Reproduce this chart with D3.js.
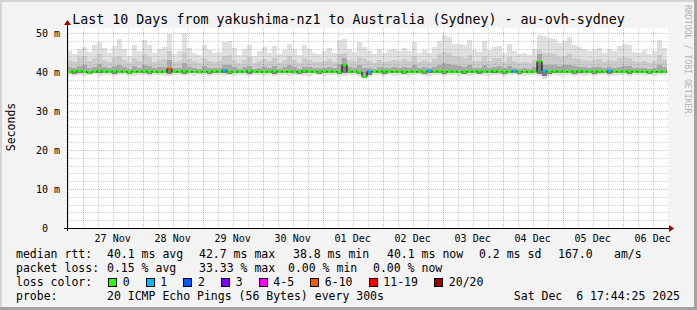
<!DOCTYPE html>
<meta charset="utf-8">
<style>
body { margin: 0; background: #f3f3f3; }
text { font-family: 'DejaVu Sans Mono', monospace; fill: #000; }
</style>
<body>
<script src="https://d3js.org/d3.v7.min.js"></script>
<script>
var width = 697,
    height = 310;

// plot frame (rrdtool canvas)
var plot = {left: 67, right: 667, top: 28, bottom: 228};

var endTime = new Date(Date.UTC(2025, 11, 6, 17, 44, 25));
var startTime = new Date(endTime.getTime() - 10 * 864e5);
var stepHours = 2;

// smoke, per 2h column (ms)
var smokeTop = [
  45.4, 44.6, 46.0, 46.3, 45.1, 47.0, 47.8, 46.2, 44.9, 46.6,
  48.4, 45.8, 44.2, 46.9, 45.5, 48.2, 47.0, 44.8, 45.9, 46.5,
  49.8, 44.6, 45.3, 49.9, 46.1, 45.0, 44.3, 46.8, 45.6, 44.9,
  45.1, 47.6, 48.0, 46.2, 44.4, 45.8, 46.9, 44.2, 45.4, 46.3,
  45.0, 46.6, 44.5, 45.7, 47.2, 45.9, 44.3, 46.8, 46.0, 44.9,
  44.7, 45.3, 46.1, 45.0, 48.1, 48.4, 46.0, 45.2, 47.6, 46.3,
  45.4, 44.6, 45.9, 44.8, 45.6, 46.0, 45.3, 46.2, 45.5, 47.7,
  45.0, 45.6, 44.9, 46.3, 48.0, 49.4, 49.0, 47.3, 47.1, 46.9,
  48.1, 45.7, 45.2, 48.0, 45.6, 46.5, 46.7, 45.0, 47.2, 45.4,
  44.6, 44.9, 44.4, 46.0, 49.4, 49.2, 48.8, 48.4, 47.4, 48.0,
  49.0, 47.0, 46.5, 46.0, 45.3, 45.8, 46.2, 44.8, 45.9, 45.5,
  46.6, 47.3, 47.0, 45.2, 44.9, 45.6, 44.6, 45.3, 48.3, 46.2
];
var smokeMid = [
  43.0, 42.6, 43.8, 44.0, 42.8, 43.5, 44.6, 43.2, 42.5, 43.9,
  44.2, 43.0, 42.4, 43.6, 42.9, 44.5, 43.8, 42.6, 43.1, 43.4,
  45.5, 42.5, 42.9, 44.8, 43.3, 42.7, 42.3, 43.7, 42.9, 42.6,
  42.8, 44.0, 44.3, 43.2, 42.4, 43.0, 43.9, 42.3, 42.8, 43.3,
  42.7, 43.6, 42.4, 43.0, 44.0, 43.1, 42.2, 43.5, 43.2, 42.6,
  42.5, 42.9, 43.4, 42.6, 44.5, 45.0, 43.2, 42.8, 43.9, 43.4,
  42.9, 42.4, 43.0, 42.5, 42.9, 43.2, 42.8, 43.3, 42.9, 44.0,
  42.6, 43.0, 42.5, 43.4, 44.6, 45.2, 45.0, 44.1, 43.8, 43.6,
  44.3, 42.9, 42.7, 44.2, 42.9, 43.5, 43.7, 42.6, 43.9, 42.8,
  42.4, 42.6, 42.3, 43.2, 45.6, 44.8, 44.9, 44.5, 43.9, 44.2,
  44.6, 43.6, 43.3, 43.0, 42.7, 43.0, 43.3, 42.5, 43.1, 42.9,
  43.5, 43.9, 43.7, 42.7, 42.5, 42.9, 42.4, 42.8, 44.3, 43.2
];
var smokeCore = [
  41.2, 40.9, 41.6, 41.7, 41.0, 41.4, 42.0, 41.3, 40.9, 41.6,
  41.8, 41.2, 40.8, 41.5, 41.1, 41.9, 41.6, 40.9, 41.3, 41.4,
  43.0, 40.9, 41.1, 42.2, 41.3, 41.0, 40.8, 41.5, 41.1, 40.9,
  41.0, 41.7, 41.9, 41.3, 40.8, 41.2, 41.6, 40.8, 41.0, 41.3,
  41.0, 41.5, 40.8, 41.2, 41.7, 41.3, 40.7, 41.4, 41.3, 40.9,
  40.9, 41.1, 41.4, 41.0, 42.0, 43.6, 41.3, 41.0, 41.7, 41.0,
  41.1, 40.8, 41.2, 40.9, 41.1, 41.3, 41.0, 41.3, 41.1, 41.7,
  40.9, 41.2, 40.9, 41.4, 41.9, 42.2, 42.0, 41.7, 41.5, 41.4,
  41.8, 41.1, 41.0, 41.8, 41.1, 41.4, 41.5, 40.9, 41.6, 41.0,
  40.8, 40.9, 40.8, 41.3, 44.6, 41.9, 41.9, 41.8, 41.6, 41.7,
  41.9, 41.5, 41.3, 41.2, 41.0, 41.2, 41.3, 40.9, 41.2, 41.1,
  41.4, 41.6, 41.5, 41.0, 40.9, 41.1, 40.8, 41.0, 41.7, 41.3
];
var smokeLow = [
  39.7, 39.6, 39.8, 39.7, 39.6, 39.8, 39.7, 39.7, 39.8, 39.6,
  39.7, 39.8, 39.6, 39.7, 39.8, 39.7, 39.6, 39.8, 39.7, 39.7,
  39.6, 39.8, 39.7, 39.6, 39.8, 39.7, 39.7, 39.8, 39.6, 39.7,
  39.8, 39.7, 39.6, 39.7, 39.8, 39.7, 39.6, 39.8, 39.7, 39.7,
  39.7, 39.6, 39.8, 39.7, 39.7, 39.8, 39.6, 39.7, 39.8, 39.7,
  39.6, 39.7, 39.8, 39.7, 39.6, 39.7, 39.8, 39.7, 39.5, 38.6,
  39.3, 39.7, 39.8, 39.6, 39.7, 39.7, 39.8, 39.6, 39.7, 39.8,
  39.7, 39.6, 39.7, 39.8, 39.7, 39.6, 39.7, 39.8, 39.7, 39.6,
  39.7, 39.8, 39.6, 39.7, 39.7, 39.8, 39.7, 39.6, 39.8, 39.7,
  39.6, 39.7, 39.8, 39.7, 39.6, 39.0, 39.6, 39.7, 39.8, 39.7,
  39.7, 39.6, 39.8, 39.7, 39.7, 39.6, 39.8, 39.7, 39.6, 39.7,
  39.8, 39.7, 39.6, 39.7, 39.8, 39.7, 39.6, 39.7, 39.8, 39.7
];
var smokeMin = [
  39.2, 39.0, 39.3, 39.1, 39.2, 39.4, 39.0, 39.2, 39.3, 39.1,
  39.2, 39.3, 39.1, 39.0, 39.3, 39.2, 39.1, 39.3, 39.2, 39.0,
  39.1, 39.3, 39.2, 39.1, 39.3, 39.0, 39.2, 39.3, 39.1, 39.2,
  39.3, 39.1, 39.2, 39.0, 39.3, 39.2, 39.1, 39.3, 39.2, 39.1,
  39.2, 39.0, 39.3, 39.2, 39.1, 39.3, 39.2, 39.0, 39.1, 39.3,
  39.2, 39.1, 39.3, 39.2, 39.0, 39.1, 39.3, 39.2, 38.9, 38.3,
  38.8, 39.2, 39.3, 39.1, 39.2, 39.0, 39.3, 39.2, 39.1, 39.3,
  39.2, 39.1, 39.0, 39.3, 39.2, 39.1, 39.2, 39.3, 39.0, 39.2,
  39.1, 39.3, 39.2, 39.0, 39.1, 39.3, 39.2, 39.1, 39.3, 39.2,
  39.1, 39.0, 39.2, 39.3, 39.0, 38.3, 39.0, 39.2, 39.1, 39.3,
  39.2, 39.1, 39.3, 39.0, 39.2, 39.1, 39.3, 39.2, 39.0, 39.1,
  39.3, 39.2, 39.1, 39.2, 39.3, 39.0, 39.2, 39.1, 39.3, 39.2
];
var median = [
  40.0, 40.2, 40.3, 40.1, 39.9, 40.1, 40.3, 40.1, 40.1, 40.2,
  40.1, 40.1, 40.0, 40.1, 40.1, 40.2, 40.1, 40.1, 40.0, 40.1,
  40.8, 40.1, 40.1, 40.2, 40.1, 40.1, 40.0, 40.1, 40.1, 40.2,
  40.1, 40.4, 40.1, 40.0, 40.1, 40.1, 40.3, 40.1, 40.1, 40.0,
  40.1, 40.2, 40.1, 40.1, 40.1, 40.0, 40.1, 40.3, 40.1, 40.1,
  40.1, 40.2, 40.1, 40.1, 40.0, 41.8, 40.1, 40.1, 40.0, 38.8,
  40.1, 40.1, 40.1, 40.2, 40.1, 40.1, 40.1, 40.0, 40.1, 40.1,
  40.1, 40.1, 40.3, 40.1, 40.2, 40.1, 40.1, 40.1, 40.0, 40.1,
  40.1, 40.1, 40.2, 40.1, 40.1, 40.3, 40.1, 40.1, 40.1, 40.2,
  40.1, 40.1, 40.0, 40.1, 42.7, 40.3, 40.1, 40.2, 40.1, 40.1,
  40.1, 40.1, 40.3, 40.1, 40.1, 40.1, 40.2, 40.1, 40.3, 40.1,
  40.1, 40.1, 40.2, 40.1, 40.1, 40.1, 40.0, 40.1, 40.1, 40.1
];
// [column, lost pings out of 20]
var lossAt = [[20, 7], [31, 1], [60, 1], [72, 1], [89, 1], [95, 1], [108, 1]];

var lossLabels = ["0", "1", "2", "3", "4-5", "6-10", "11-19", "20/20"];
var lossUpper = [0, 1, 2, 3, 5, 10, 19, 20];
var lossColors = ["#26ff00", "#00b8ff", "#0059ff", "#7e00ff", "#ff00ff", "#ff5500", "#ff0000", "#a10000"];

var dayLabels = ["27 Nov", "28 Nov", "29 Nov", "30 Nov", "01 Dec", "02 Dec", "03 Dec", "04 Dec", "05 Dec", "06 Dec"];
var yTicks = [0, 10, 20, 30, 40, 50];
var yTickLabels = ["0  ", "10 m", "20 m", "30 m", "40 m", "50 m"];

var title = "Last 10 Days from yakushima-nz1 to Australia (Sydney) - au-ovh-sydney";
var rttStats = ["40.1 ms avg", "42.7 ms max", "38.8 ms min", "40.1 ms now", "0.2 ms sd", "167.0", "am/s"];
var lossStats = ["0.15 % avg", "33.33 % max", "0.00 % min", "0.00 % now"];
var probeText = "20 ICMP Echo Pings (56 Bytes) every 300s";
var stamp = "Sat Dec  6 17:44:25 2025";

var svg = d3.select("body").append("svg")
    .attr("width", width)
    .attr("height", height);

// background + 3d frame
svg.append("rect").attr("width", width).attr("height", height).attr("fill", "#f3f3f3");
svg.append("path").attr("d", "M0,1H696M1,0V310").attr("stroke", "#d4d4d4").attr("stroke-width", 2);
svg.append("path").attr("d", "M0,308.5H697M695.5,0V310").attr("stroke", "#a3a3a3").attr("stroke-width", 3);

var x = d3.scaleUtc().domain([startTime, endTime]).range([plot.left, plot.right]);
var y = d3.scaleLinear().domain([0, (plot.bottom - plot.top) / 3.9]).range([plot.bottom, plot.top]);

svg.append("rect")
    .attr("x", plot.left).attr("y", plot.top)
    .attr("width", plot.right - plot.left + 1).attr("height", plot.bottom - plot.top)
    .attr("fill", "#fff");

var cols = median.map(function(m, i) {
  var t0 = new Date(startTime.getTime() + i * stepHours * 36e5);
  var t1 = new Date(startTime.getTime() + (i + 1) * stepHours * 36e5);
  return {i: i, x0: x(t0), x1: x(t1)};
});

var lossByCol = {};
lossAt.forEach(function(d) { lossByCol[d[0]] = d[1]; });

var smoke = svg.append("g").attr("shape-rendering", "crispEdges");
function band(lowArr, highArr, color) {
  smoke.append("g").selectAll("rect")
    .data(cols)
    .join("rect")
      .attr("x", d => d.x0)
      .attr("width", d => d.x1 - d.x0 + 0.3)
      .attr("y", d => y(highArr[d.i]))
      .attr("height", d => Math.max(0, y(lowArr[d.i]) - y(highArr[d.i])))
      .attr("fill", color);
}
band(smokeMin, smokeTop, "#e0e0e0");
band(smokeLow, smokeMid, "#cbcbcb");
band(smokeLow, smokeCore, "#a8a8a8");
band(smokeLow, median, "#7c7c7c");

// grid
var grid = svg.append("g").attr("shape-rendering", "crispEdges");
d3.range(0, 51, 2).forEach(function(v) {
  if (v === 0) return;
  grid.append("line")
    .attr("x1", plot.left).attr("x2", plot.right + 1)
    .attr("y1", Math.round(y(v)) + 0.5).attr("y2", Math.round(y(v)) + 0.5)
    .attr("stroke", v % 10 === 0 ? "rgba(255,0,0,0.35)" : "rgba(160,160,160,0.5)")
    .attr("stroke-dasharray", "1,1");
});
d3.utcHour.every(6).range(startTime, endTime).forEach(function(t) {
  var xx = Math.round(x(t)) + 0.5;
  grid.append("line")
    .attr("x1", xx).attr("x2", xx)
    .attr("y1", plot.top).attr("y2", plot.bottom)
    .attr("stroke", t.getUTCHours() === 0 ? "rgba(255,0,0,0.35)" : "rgba(160,160,160,0.5)")
    .attr("stroke-dasharray", "1,1");
});

// median: black step line, then loss coloured segments
var medPts = cols.map(d => [d.x0, y(median[d.i])]);
medPts.push([cols[cols.length - 1].x1, y(median[median.length - 1])]);
svg.append("path")
    .attr("d", d3.line().curve(d3.curveStepAfter)(medPts))
    .attr("fill", "none")
    .attr("stroke", "#000")
    .attr("stroke-width", 1);

svg.append("g").selectAll("line")
  .data(cols)
  .join("line")
    .attr("x1", d => d.x0 + 0.5).attr("x2", d => d.x1 - 0.5)
    .attr("y1", d => y(median[d.i])).attr("y2", d => y(median[d.i]))
    .attr("stroke", d => lossColors[d3.bisectLeft(lossUpper, lossByCol[d.i] || 0)])
    .attr("stroke-width", 2.6);

// axes
var axis = svg.append("g").attr("shape-rendering", "crispEdges");
axis.append("line").attr("x1", plot.left - 3).attr("x2", plot.right + 3)
    .attr("y1", plot.bottom + 0.5).attr("y2", plot.bottom + 0.5).attr("stroke", "#000");
axis.append("line").attr("x1", plot.left + 0.5).attr("x2", plot.left + 0.5)
    .attr("y1", plot.top - 4).attr("y2", plot.bottom + 3).attr("stroke", "#000");
svg.append("path")
    .attr("d", "M" + (plot.right + 2) + "," + (plot.bottom - 3) + "L" + (plot.right + 7) + "," + (plot.bottom + 0.5) + "L" + (plot.right + 2) + "," + (plot.bottom + 4) + "Z")
    .attr("fill", "#a00000");
svg.append("path")
    .attr("d", "M" + (plot.left - 3) + "," + (plot.top - 3) + "L" + (plot.left + 0.5) + "," + (plot.top - 8) + "L" + (plot.left + 4) + "," + (plot.top - 3) + "Z")
    .attr("fill", "#a00000");

svg.append("g").selectAll("text")
  .data(yTicks)
  .join("text")
    .attr("x", 60)
    .attr("y", d => y(d) + 3.5)
    .attr("text-anchor", "end")
    .attr("font-size", "10px")
    .attr("xml:space", "preserve")
    .text((d, i) => yTickLabels[i]);

svg.append("g").selectAll("text")
  .data(dayLabels)
  .join("text")
    .attr("x", (d, i) => x(new Date(Date.UTC(2025, 10, 27 + i, 12))))
    .attr("y", 241.5)
    .attr("text-anchor", "middle")
    .attr("font-size", "10px")
    .text(d => d);

svg.append("text")
    .attr("x", width / 2).attr("y", 23.5)
    .attr("text-anchor", "middle")
    .attr("font-size", "13.3px")
    .text(title);

svg.append("text")
    .attr("transform", "translate(14.5,127) rotate(-90)")
    .attr("text-anchor", "middle")
    .attr("font-size", "11.5px")
    .text("Seconds");

svg.append("text")
    .attr("transform", "translate(685,5) rotate(90)")
    .attr("font-size", "8.2px")
    .style("fill", "#b4b4b4")
    .text("RRDTOOL / TOBI OETIKER");

// legend
var leg = svg.append("g").attr("font-size", "11.5px");
function put(txt, xx, yy, anchor) {
  leg.append("text").attr("x", xx).attr("y", yy)
    .attr("text-anchor", anchor || "start")
    .attr("xml:space", "preserve").text(txt);
}
put("median rtt:", 16, 258);
[107, 199, 293, 387, 479, 558, 614].forEach((xx, i) => put(rttStats[i], xx, 258));
put("packet loss:", 16, 272);
[107, 199, 288, 373].forEach((xx, i) => put(lossStats[i], xx, 272));
put("loss color:", 16, 286);
var bx = 108;
lossLabels.forEach(function(l, i) {
  leg.append("rect").attr("x", bx + 0.5).attr("y", 278.5).attr("width", 8).attr("height", 8)
    .attr("fill", lossColors[i]).attr("stroke", "#000").attr("shape-rendering", "crispEdges");
  put(l, bx + 14.7, 286);
  bx = bx + 14.7 + l.length * 6.95 + 16;
});
put("probe:", 16, 300);
put(probeText, 107, 300);
put(stamp, 680, 300, "end");
</script>
